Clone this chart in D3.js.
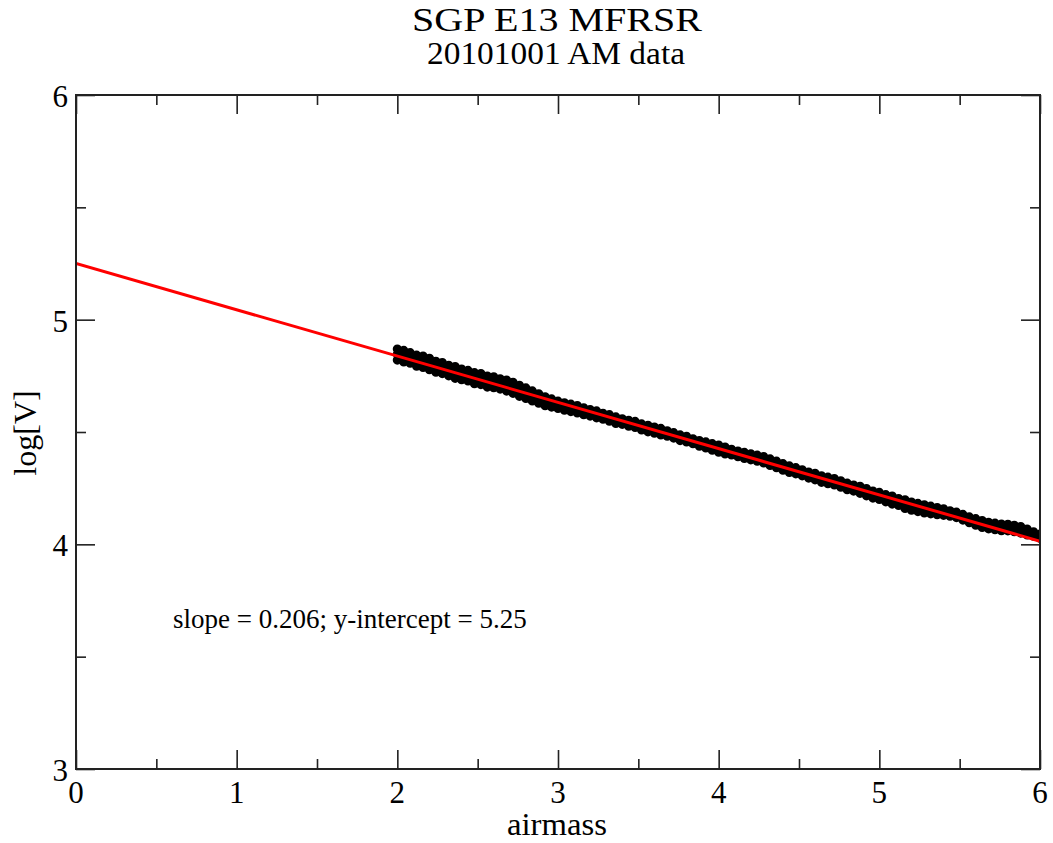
<!DOCTYPE html>
<html>
<head>
<meta charset="utf-8">
<script src="https://cdn.jsdelivr.net/npm/d3@7"></script>
<style>
  html, body { margin: 0; padding: 0; background: #fff; }
  svg { display: block; }
  text { font-family: "Liberation Serif", "Times New Roman", serif; fill: #000; }
</style>
</head>
<body>
<svg id="chart" width="1053" height="843"></svg>
<script>
// ---- data ----
const titleText = "SGP E13 MFRSR";
const subtitleText = "20101001 AM data";
const xLabel = "airmass";
const yLabel = "log[V]";
const annotation = "slope = 0.206; y-intercept = 5.25";

const xTicks = [0, 1, 2, 3, 4, 5, 6];
const yTicks = [3, 4, 5, 6];
const xMinorTicks = [0.5, 1.5, 2.5, 3.5, 4.5, 5.5];
const yMinorTicks = [3.5, 4.5, 5.5];

const airmass = [
  2.00, 2.04, 2.08, 2.12, 2.16, 2.20, 2.24, 2.28, 2.32, 2.36,
  2.40, 2.44, 2.48, 2.52, 2.56, 2.60, 2.64, 2.68, 2.72, 2.76,
  2.80, 2.84, 2.88, 2.92, 2.96, 3.00, 3.04, 3.08, 3.12, 3.16,
  3.20, 3.24, 3.28, 3.32, 3.36, 3.40, 3.44, 3.48, 3.52, 3.56,
  3.60, 3.64, 3.68, 3.72, 3.76, 3.80, 3.84, 3.88, 3.92, 3.96,
  4.00, 4.04, 4.08, 4.12, 4.16, 4.20, 4.24, 4.28, 4.32, 4.36,
  4.40, 4.44, 4.48, 4.52, 4.56, 4.60, 4.64, 4.68, 4.72, 4.76,
  4.80, 4.84, 4.88, 4.92, 4.96, 5.00, 5.04, 5.08, 5.12, 5.16,
  5.20, 5.24, 5.28, 5.32, 5.36, 5.40, 5.44, 5.48, 5.52, 5.56,
  5.60, 5.64, 5.68, 5.72, 5.76, 5.80, 5.84, 5.88, 5.92, 5.96,
  6.00
];
const logV_upper = [
  4.869, 4.863, 4.853, 4.842, 4.838, 4.828, 4.815, 4.809, 4.797, 4.791,
  4.780, 4.774, 4.764, 4.760, 4.749, 4.746, 4.737, 4.731, 4.721, 4.708,
  4.696, 4.683, 4.670, 4.657, 4.647, 4.637, 4.630, 4.624, 4.618, 4.608,
  4.600, 4.594, 4.583, 4.577, 4.567, 4.559, 4.552, 4.547, 4.536, 4.530,
  4.522, 4.516, 4.505, 4.497, 4.487, 4.481, 4.470, 4.462, 4.456, 4.448,
  4.442, 4.433, 4.423, 4.415, 4.409, 4.403, 4.397, 4.391, 4.380, 4.370,
  4.359, 4.349, 4.341, 4.332, 4.322, 4.316, 4.305, 4.299, 4.293, 4.283,
  4.272, 4.264, 4.258, 4.248, 4.237, 4.231, 4.221, 4.215, 4.204, 4.198,
  4.188, 4.182, 4.176, 4.170, 4.164, 4.158, 4.149, 4.143, 4.133, 4.122,
  4.114, 4.106, 4.098, 4.094, 4.090, 4.089, 4.085, 4.079, 4.068, 4.056,
  4.045
];
const logV_middle = [
  4.846, 4.836, 4.831, 4.816, 4.814, 4.801, 4.792, 4.783, 4.775, 4.764,
  4.758, 4.749, 4.741, 4.734, 4.726, 4.720, 4.715, 4.705, 4.698, 4.682,
  4.674, 4.659, 4.650, 4.636, 4.630, 4.620, 4.615, 4.606, 4.603, 4.591,
  4.587, 4.577, 4.571, 4.561, 4.554, 4.545, 4.540, 4.532, 4.524, 4.514,
  4.510, 4.500, 4.494, 4.484, 4.476, 4.467, 4.460, 4.448, 4.444, 4.432,
  4.427, 4.416, 4.412, 4.401, 4.397, 4.388, 4.385, 4.375, 4.367, 4.354,
  4.346, 4.333, 4.329, 4.317, 4.310, 4.300, 4.292, 4.283, 4.280, 4.267,
  4.259, 4.249, 4.244, 4.231, 4.223, 4.214, 4.206, 4.195, 4.190, 4.178,
  4.171, 4.162, 4.159, 4.151, 4.149, 4.142, 4.138, 4.130, 4.122, 4.108,
  4.101, 4.089, 4.085, 4.078, 4.077, 4.073, 4.072, 4.063, 4.056, 4.045,
  4.037
];
const logV_lower = [
  4.820, 4.812, 4.806, 4.793, 4.787, 4.777, 4.766, 4.760, 4.750, 4.739,
  4.733, 4.727, 4.715, 4.711, 4.700, 4.697, 4.691, 4.682, 4.672, 4.659,
  4.649, 4.638, 4.628, 4.617, 4.611, 4.605, 4.597, 4.591, 4.585, 4.577,
  4.571, 4.563, 4.557, 4.548, 4.538, 4.534, 4.526, 4.520, 4.509, 4.501,
  4.495, 4.487, 4.481, 4.473, 4.462, 4.456, 4.448, 4.437, 4.429, 4.419,
  4.410, 4.402, 4.398, 4.390, 4.382, 4.376, 4.370, 4.362, 4.351, 4.341,
  4.330, 4.320, 4.314, 4.305, 4.295, 4.287, 4.276, 4.270, 4.264, 4.254,
  4.243, 4.237, 4.227, 4.216, 4.206, 4.200, 4.189, 4.179, 4.173, 4.160,
  4.152, 4.146, 4.140, 4.136, 4.132, 4.129, 4.125, 4.119, 4.108, 4.096,
  4.085, 4.075, 4.069, 4.065, 4.061, 4.060, 4.056, 4.050, 4.042, 4.036,
  4.027
];
const fitX = [0, 6];
const fitY = [5.25, 4.014];

// ---- layout ----
const svg = d3.select("#chart");
const mLeft = 76, mRight = 1040, mTop = 95, mBottom = 769;

const x = d3.scaleLinear().domain([0, 6]).range([mLeft, mRight]);
const y = d3.scaleLinear().domain([3, 6]).range([mBottom, mTop]);

svg.append("defs").append("clipPath").attr("id", "plotclip")
  .append("rect").attr("x", mLeft).attr("y", mTop)
  .attr("width", mRight - mLeft).attr("height", mBottom - mTop);

const plot = svg.append("g").attr("clip-path", "url(#plotclip)");

// data symbols (dense, overlapping symbols forming a band)
const pts = [];
airmass.forEach((a, i) => {
  pts.push([a, logV_upper[i]]);
  pts.push([a, logV_middle[i]]);
  pts.push([a, logV_lower[i]]);
});
plot.append("g").selectAll("circle").data(pts).join("circle")
  .attr("cx", d => x(d[0])).attr("cy", d => y(d[1]))
  .attr("r", 3.6)
  .attr("fill", "#000")
  .attr("stroke", "#000")
  .attr("stroke-width", 2);

// fit line
plot.append("path")
  .datum(fitX.map((v, i) => [v, fitY[i]]))
  .attr("d", d3.line().x(d => x(d[0])).y(d => y(d[1])))
  .attr("fill", "none")
  .attr("stroke", "#ff0000")
  .attr("stroke-width", 3);

// axes (ticks inward on all sides)
const majorLen = 19, minorLen = 10;
function styleAxis(g) {
  g.select(".domain").remove();
  g.selectAll(".tick line").attr("stroke", "#222").attr("stroke-width", 1.6);
}
svg.append("g").attr("transform", `translate(0,${mBottom})`)
  .call(d3.axisBottom(x).tickValues(xTicks).tickSize(-majorLen).tickFormat(""))
  .call(styleAxis);
svg.append("g").attr("transform", `translate(0,${mBottom})`)
  .call(d3.axisBottom(x).tickValues(xMinorTicks).tickSize(-minorLen).tickFormat(""))
  .call(styleAxis);
svg.append("g").attr("transform", `translate(0,${mTop})`)
  .call(d3.axisTop(x).tickValues(xTicks).tickSize(-majorLen).tickFormat(""))
  .call(styleAxis);
svg.append("g").attr("transform", `translate(0,${mTop})`)
  .call(d3.axisTop(x).tickValues(xMinorTicks).tickSize(-minorLen).tickFormat(""))
  .call(styleAxis);
svg.append("g").attr("transform", `translate(${mLeft},0)`)
  .call(d3.axisLeft(y).tickValues(yTicks).tickSize(-majorLen).tickFormat(""))
  .call(styleAxis);
svg.append("g").attr("transform", `translate(${mLeft},0)`)
  .call(d3.axisLeft(y).tickValues(yMinorTicks).tickSize(-minorLen).tickFormat(""))
  .call(styleAxis);
svg.append("g").attr("transform", `translate(${mRight},0)`)
  .call(d3.axisRight(y).tickValues(yTicks).tickSize(-majorLen).tickFormat(""))
  .call(styleAxis);
svg.append("g").attr("transform", `translate(${mRight},0)`)
  .call(d3.axisRight(y).tickValues(yMinorTicks).tickSize(-minorLen).tickFormat(""))
  .call(styleAxis);

// tick labels
svg.append("g").selectAll("text").data(xTicks).join("text")
  .attr("x", d => x(d)).attr("y", 803)
  .attr("text-anchor", "middle").attr("font-size", 31)
  .text(d => d);
svg.append("g").selectAll("text").data(yTicks).join("text")
  .attr("x", 68).attr("y", d => y(d) + 12)
  .attr("text-anchor", "end").attr("font-size", 31)
  .text(d => d);

// frame
svg.append("rect").attr("x", mLeft).attr("y", mTop)
  .attr("width", mRight - mLeft).attr("height", mBottom - mTop)
  .attr("fill", "none").attr("stroke", "#222").attr("stroke-width", 2);

// titles
svg.append("text").attr("x", 557).attr("y", 31).attr("text-anchor", "middle")
  .attr("font-size", 34).attr("textLength", 290).attr("lengthAdjust", "spacingAndGlyphs")
  .text(titleText);
svg.append("text").attr("x", 556).attr("y", 64).attr("text-anchor", "middle")
  .attr("font-size", 31).attr("textLength", 258).attr("lengthAdjust", "spacingAndGlyphs")
  .text(subtitleText);
svg.append("text").attr("x", 557).attr("y", 835).attr("text-anchor", "middle")
  .attr("font-size", 31).attr("textLength", 100).attr("lengthAdjust", "spacingAndGlyphs")
  .text(xLabel);
svg.append("text").attr("transform", "translate(36,433) rotate(-90)")
  .attr("text-anchor", "middle").attr("font-size", 32).text(yLabel);
svg.append("text").attr("x", 173).attr("y", 628)
  .attr("font-size", 27).text(annotation);
</script>
</body>
</html>
